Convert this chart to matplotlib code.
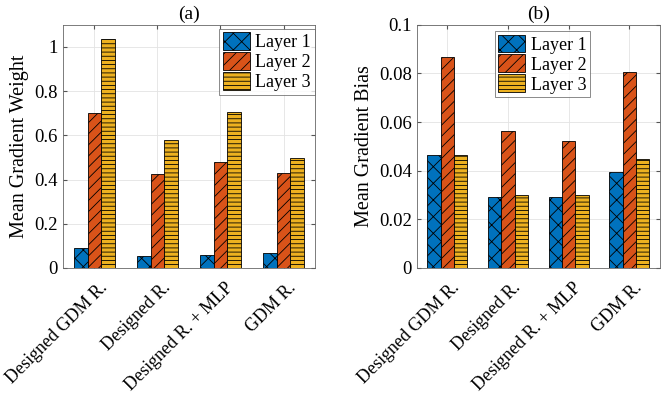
import matplotlib
matplotlib.use("Agg")
import matplotlib.pyplot as plt
import numpy as np
from matplotlib.ticker import FuncFormatter
from matplotlib.transforms import blended_transform_factory, ScaledTranslation

categories = ["Designed GDM R.", "Designed R.", "Designed R. + MLP", "GDM R."]
series_names = ["Layer 1", "Layer 2", "Layer 3"]
weight_l1 = [0.088, 0.056, 0.059, 0.068]
weight_l2 = [0.699, 0.424, 0.478, 0.430]
weight_l3 = [1.036, 0.577, 0.707, 0.498]
bias_l1 = [0.0465, 0.0293, 0.0293, 0.0396]
bias_l2 = [0.0866, 0.0564, 0.0523, 0.0807]
bias_l3 = [0.0465, 0.0301, 0.0301, 0.0446]

colors = ["#0072BD", "#D95319", "#EDB120"]
hatches = ["xx", "///", "----"]

plt.rcParams['font.family'] = ['Liberation Serif', 'DejaVu Serif']
plt.rcParams['hatch.linewidth'] = 0.6
plt.rcParams['hatch.color'] = 'black'

fig = plt.figure(figsize=(6.65, 3.94), dpi=100)
axA = fig.add_axes([0.0947, 0.320, 0.379, 0.617])
axB = fig.add_axes([0.627, 0.320, 0.365, 0.617])

def draw(ax, data, ylim, ylabel, title, legend_anchor):
    x = np.arange(1, len(categories) + 1)
    w = 0.22
    for i, (vals, name) in enumerate(zip(data, series_names)):
        ax.bar(x + (i - 1) * w, vals, width=w, color=colors[i], edgecolor='black',
               linewidth=0.6, hatch=hatches[i], label=name, zorder=3)
    ax.set_xlim(0.5, 4.5)
    ax.set_ylim(*ylim)
    ax.set_xticks(x)
    ax.set_xticklabels([])
    trans = blended_transform_factory(ax.transData, ax.transAxes) + \
        ScaledTranslation(0.10, -0.17, fig.dpi_scale_trans)
    for xi, cat in zip(x, categories):
        ax.text(xi, 0, cat, transform=trans, rotation=45, ha='right', va='center',
                rotation_mode='anchor', fontsize=13)
    ax.yaxis.set_major_formatter(FuncFormatter(lambda v, p: '%g' % round(v, 6)))
    ax.tick_params(direction='in', top=True, right=True, labelsize=13.5, length=3,
                   color='#555555')
    ax.grid(True, color='#e3e3e3', linewidth=0.6, zorder=0)
    ax.set_axisbelow(True)
    for s in ax.spines.values():
        s.set_color('#666666')
        s.set_linewidth(0.6)
    ax.set_ylabel(ylabel, fontsize=14.5)
    ax.set_title(title, fontsize=14, pad=4)
    leg = ax.legend(loc='upper left', bbox_to_anchor=legend_anchor, fontsize=13,
                    frameon=True, fancybox=False, edgecolor='#555555',
                    handlelength=1.5, handleheight=1.15, handletextpad=0.3,
                    borderpad=0.2, labelspacing=0.05, borderaxespad=0)
    leg.get_frame().set_linewidth(0.6)

draw(axA, [weight_l1, weight_l2, weight_l3], (0, 1.1), "Mean Gradient Weight", "(a)", (0.62, 0.984))
draw(axB, [bias_l1, bias_l2, bias_l3], (0, 0.1), "Mean Gradient Bias", "(b)", (0.32, 0.975))
axB.set_yticks([0, 0.02, 0.04, 0.06, 0.08, 0.1])

fig.savefig("out.png", dpi=100)
